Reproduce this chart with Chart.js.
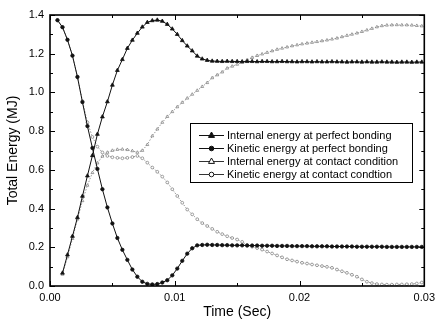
<!DOCTYPE html>
<html>
<head>
<meta charset="utf-8">
<script src="https://cdn.jsdelivr.net/npm/chart.js@4.4.1/dist/chart.umd.min.js"></script>
<style>
  html, body { margin: 0; padding: 0; background: #fff; }
  #wrap { width: 440px; height: 326px; }
</style>
</head>
<body>
<div id="wrap"><canvas id="energyChart" width="440" height="326"></canvas></div>
<script>
// Time samples (s)
const times = [
    0.0006, 0.0010, 0.0014, 0.0018, 0.0022, 0.0026, 0.0030, 0.0034, 0.0038, 0.0042,
    0.0046, 0.0050, 0.0054, 0.0058, 0.0062, 0.0066, 0.0070, 0.0074, 0.0078, 0.0082,
    0.0086, 0.0090, 0.0094, 0.0098, 0.0102, 0.0106, 0.0110, 0.0114, 0.0118, 0.0122,
    0.0126, 0.0130, 0.0134, 0.0138, 0.0142, 0.0146, 0.0150, 0.0154, 0.0158, 0.0162,
    0.0166, 0.0170, 0.0174, 0.0178, 0.0182, 0.0186, 0.0190, 0.0194, 0.0198, 0.0202,
    0.0206, 0.0210, 0.0214, 0.0218, 0.0222, 0.0226, 0.0230, 0.0234, 0.0238, 0.0242,
    0.0246, 0.0250, 0.0254, 0.0258, 0.0262, 0.0266, 0.0270, 0.0274, 0.0278, 0.0282,
    0.0286, 0.0290, 0.0294, 0.0298
];

// Energies (MJ)
const internalPerfect = [
    null, 0.067, 0.161, 0.257, 0.354, 0.464, 0.569, 0.674, 0.784, 0.874,
    0.952, 1.038, 1.114, 1.170, 1.228, 1.270, 1.306, 1.338, 1.362, 1.371,
    1.374, 1.368, 1.352, 1.328, 1.300, 1.268, 1.240, 1.215, 1.188, 1.173,
    1.166, 1.162, 1.161, 1.160, 1.161, 1.160, 1.160, 1.159, 1.160, 1.160,
    1.159, 1.160, 1.160, 1.159, 1.159, 1.160, 1.159, 1.159, 1.158, 1.159,
    1.159, 1.158, 1.159, 1.158, 1.158, 1.159, 1.158, 1.158, 1.157, 1.158,
    1.158, 1.157, 1.158, 1.157, 1.157, 1.158, 1.157, 1.157, 1.156, 1.157,
    1.157, 1.156, 1.157, 1.157
];
const kineticPerfect = [
    1.373, 1.337, 1.272, 1.190, 1.080, 0.950, 0.826, 0.713, 0.605, 0.500,
    0.406, 0.323, 0.248, 0.187, 0.135, 0.085, 0.048, 0.022, 0.011, 0.008,
    0.010, 0.018, 0.030, 0.055, 0.090, 0.130, 0.167, 0.195, 0.210, 0.212,
    0.213, 0.212, 0.212, 0.211, 0.211, 0.210, 0.210, 0.210, 0.209, 0.209,
    0.209, 0.208, 0.208, 0.208, 0.207, 0.207, 0.207, 0.206, 0.206, 0.206,
    0.206, 0.205, 0.205, 0.205, 0.205, 0.204, 0.204, 0.204, 0.204, 0.204,
    0.203, 0.203, 0.203, 0.203, 0.203, 0.203, 0.202, 0.202, 0.202, 0.202,
    0.202, 0.202, 0.202, 0.202
];
const internalContact = [
    null, 0.060, 0.150, 0.245, 0.345, 0.440, 0.520, 0.585, 0.635, 0.670,
    0.690, 0.700, 0.705, 0.706, 0.704, 0.698, 0.690, 0.700, 0.730, 0.775,
    0.810, 0.845, 0.875, 0.900, 0.925, 0.948, 0.970, 0.990, 1.010, 1.030,
    1.050, 1.075, 1.090, 1.105, 1.125, 1.135, 1.145, 1.155, 1.168, 1.180,
    1.190, 1.198, 1.206, 1.214, 1.222, 1.228, 1.234, 1.240, 1.245, 1.250,
    1.254, 1.258, 1.262, 1.266, 1.270, 1.275, 1.280, 1.287, 1.294, 1.300,
    1.306, 1.314, 1.322, 1.330, 1.338, 1.344, 1.347, 1.348, 1.349, 1.348,
    1.348, 1.347, 1.345, 1.343
];
const kineticContact = [
    1.375, 1.338, 1.272, 1.190, 1.080, 0.955, 0.845, 0.770, 0.720, 0.690,
    0.672, 0.665, 0.662, 0.660, 0.662, 0.666, 0.672, 0.660, 0.637, 0.612,
    0.590, 0.565, 0.535, 0.500, 0.465, 0.430, 0.395, 0.370, 0.345, 0.325,
    0.310, 0.295, 0.280, 0.268, 0.257, 0.248, 0.240, 0.228, 0.212, 0.203,
    0.196, 0.188, 0.178, 0.168, 0.158, 0.148, 0.138, 0.132, 0.126, 0.120,
    0.116, 0.111, 0.107, 0.103, 0.099, 0.094, 0.085, 0.076, 0.068, 0.058,
    0.048, 0.034, 0.022, 0.015, 0.010, 0.008, 0.007, 0.007, 0.008, 0.008,
    0.009, 0.010, 0.013, 0.018
];

const seriesLabels = [
    'Internal energy at perfect bonding',
    'Kinetic energy at perfect bonding',
    'Internal energy at contact condition',
    'Kinetic energy at contact condtion'
];

// Axis ticks
const xTicks = [0, 0.01, 0.02, 0.03];
const xMinor = [0.005, 0.015, 0.025];
const yTicks = [0, 0.2, 0.4, 0.6, 0.8, 1.0, 1.2, 1.4];
const yMinor = [0.1, 0.3, 0.5, 0.7, 0.9, 1.1, 1.3];

const FONT = "'Liberation Sans', Arial, sans-serif";
const toPoints = arr => times.map((t, i) => ({ x: t, y: arr[i] }));

const styles = [
    { line: '#111', dash: [], marker: 'triangle', fill: '#111', edge: '#111', r: 2.2 },
    { line: '#111', dash: [], marker: 'circle', fill: '#111', edge: '#111', r: 1.7 },
    { line: '#9a9a9a', dash: [1.5, 1.5], marker: 'triangle', fill: '#fff', edge: '#777', r: 1.7 },
    { line: '#9a9a9a', dash: [1.5, 1.5], marker: 'circle', fill: '#fff', edge: '#777', r: 1.4 }
];
const seriesData = [internalPerfect, kineticPerfect, internalContact, kineticContact];

// frame, inward ticks and the boxed legend
const framePlugin = {
    id: 'frame',
    afterDatasetsDraw(chart) {
        const { ctx, chartArea: a, scales: { x, y } } = chart;
        ctx.save();
        ctx.strokeStyle = '#000';
        ctx.lineWidth = 1;
        ctx.beginPath();
        const yTick = (v, len) => {
            const py = Math.round(y.getPixelForValue(v)) + 0.5;
            ctx.moveTo(a.left, py); ctx.lineTo(a.left + len, py);
            ctx.moveTo(a.right, py); ctx.lineTo(a.right - len, py);
        };
        const xTick = (v, len) => {
            const px = Math.round(x.getPixelForValue(v)) + 0.5;
            ctx.moveTo(px, a.bottom); ctx.lineTo(px, a.bottom - len);
            ctx.moveTo(px, a.top); ctx.lineTo(px, a.top + len);
        };
        yTicks.forEach(v => yTick(v, 5));
        yMinor.forEach(v => yTick(v, 3));
        xTicks.forEach(v => xTick(v, 5));
        xMinor.forEach(v => xTick(v, 3));
        ctx.stroke();

        ctx.lineWidth = 1.6;
        ctx.strokeRect(a.left, a.top, a.right - a.left, a.bottom - a.top);

        // legend
        const box = { l: 190, t: 123, r: 412, b: 182 };
        ctx.fillStyle = '#fff';
        ctx.fillRect(box.l, box.t, box.r - box.l, box.b - box.t);
        ctx.lineWidth = 1;
        ctx.strokeRect(box.l + 0.5, box.t + 0.5, box.r - box.l, box.b - box.t);

        const rows = [135, 148, 161, 174];
        ctx.font = '11px ' + FONT;
        ctx.textBaseline = 'middle';
        seriesLabels.forEach((label, i) => {
            const s = styles[i];
            const ry = rows[i];
            ctx.strokeStyle = i < 2 ? '#111' : '#333';
            ctx.lineWidth = 1;
            ctx.setLineDash([]);
            ctx.beginPath();
            ctx.moveTo(199, ry + 0.5); ctx.lineTo(224, ry + 0.5);
            ctx.stroke();
            ctx.fillStyle = i < 2 ? '#111' : '#fff';
            ctx.strokeStyle = '#111';
            ctx.beginPath();
            if (s.marker === 'triangle') {
                const r = 3;
                ctx.moveTo(211.5, ry - r);
                ctx.lineTo(211.5 + r, ry + r * 0.8);
                ctx.lineTo(211.5 - r, ry + r * 0.8);
                ctx.closePath();
            } else {
                ctx.arc(211.5, ry + 0.5, 2.3, 0, Math.PI * 2);
            }
            ctx.fill();
            ctx.stroke();
            ctx.fillStyle = '#000';
            ctx.fillText(label, 227, ry + 1);
        });
        ctx.restore();
    }
};

new Chart(document.getElementById('energyChart'), {
    type: 'line',
    data: {
        datasets: seriesData.map((arr, i) => ({
            label: seriesLabels[i],
            data: toPoints(arr),
            borderColor: styles[i].line,
            borderWidth: 1,
            borderDash: styles[i].dash,
            pointStyle: styles[i].marker,
            pointRadius: styles[i].r,
            pointBackgroundColor: styles[i].fill,
            pointBorderColor: styles[i].edge,
            pointBorderWidth: i < 2 ? 0.8 : 0.7,
            tension: 0,
            fill: false,
            spanGaps: false,
            order: i
        }))
    },
    options: {
        responsive: false,
        animation: false,
        devicePixelRatio: 1,
        layout: { padding: { left: 0, right: 11, top: 15, bottom: 0 } },
        plugins: { legend: { display: false }, tooltip: { enabled: false } },
        scales: {
            x: {
                type: 'linear',
                min: 0,
                max: 0.03,
                afterBuildTicks: s => { s.ticks = xTicks.map(v => ({ value: v })); },
                afterFit: s => { s.height = 40; },
                grid: { display: false, drawTicks: false },
                border: { display: false },
                ticks: {
                    color: '#000',
                    padding: 5,
                    maxRotation: 0,
                    font: { family: FONT, size: 11 },
                    callback: v => Number(v).toFixed(2)
                },
                title: {
                    display: true,
                    text: 'Time (Sec)',
                    color: '#000',
                    padding: { top: 0, bottom: 5 },
                    font: { family: FONT, size: 14 }
                }
            },
            y: {
                min: 0,
                max: 1.4,
                afterBuildTicks: s => { s.ticks = yTicks.map(v => ({ value: v })); },
                afterFit: s => { s.width = 50; },
                grid: { display: false, drawTicks: false },
                border: { display: false },
                ticks: {
                    color: '#000',
                    padding: 6,
                    font: { family: FONT, size: 11 },
                    callback: v => Number(v).toFixed(1)
                },
                title: {
                    display: true,
                    text: 'Total Energy (MJ)',
                    color: '#000',
                    padding: { top: 5, bottom: 0 },
                    font: { family: FONT, size: 14 }
                }
            }
        }
    },
    plugins: [framePlugin]
});
</script>
</body>
</html>
